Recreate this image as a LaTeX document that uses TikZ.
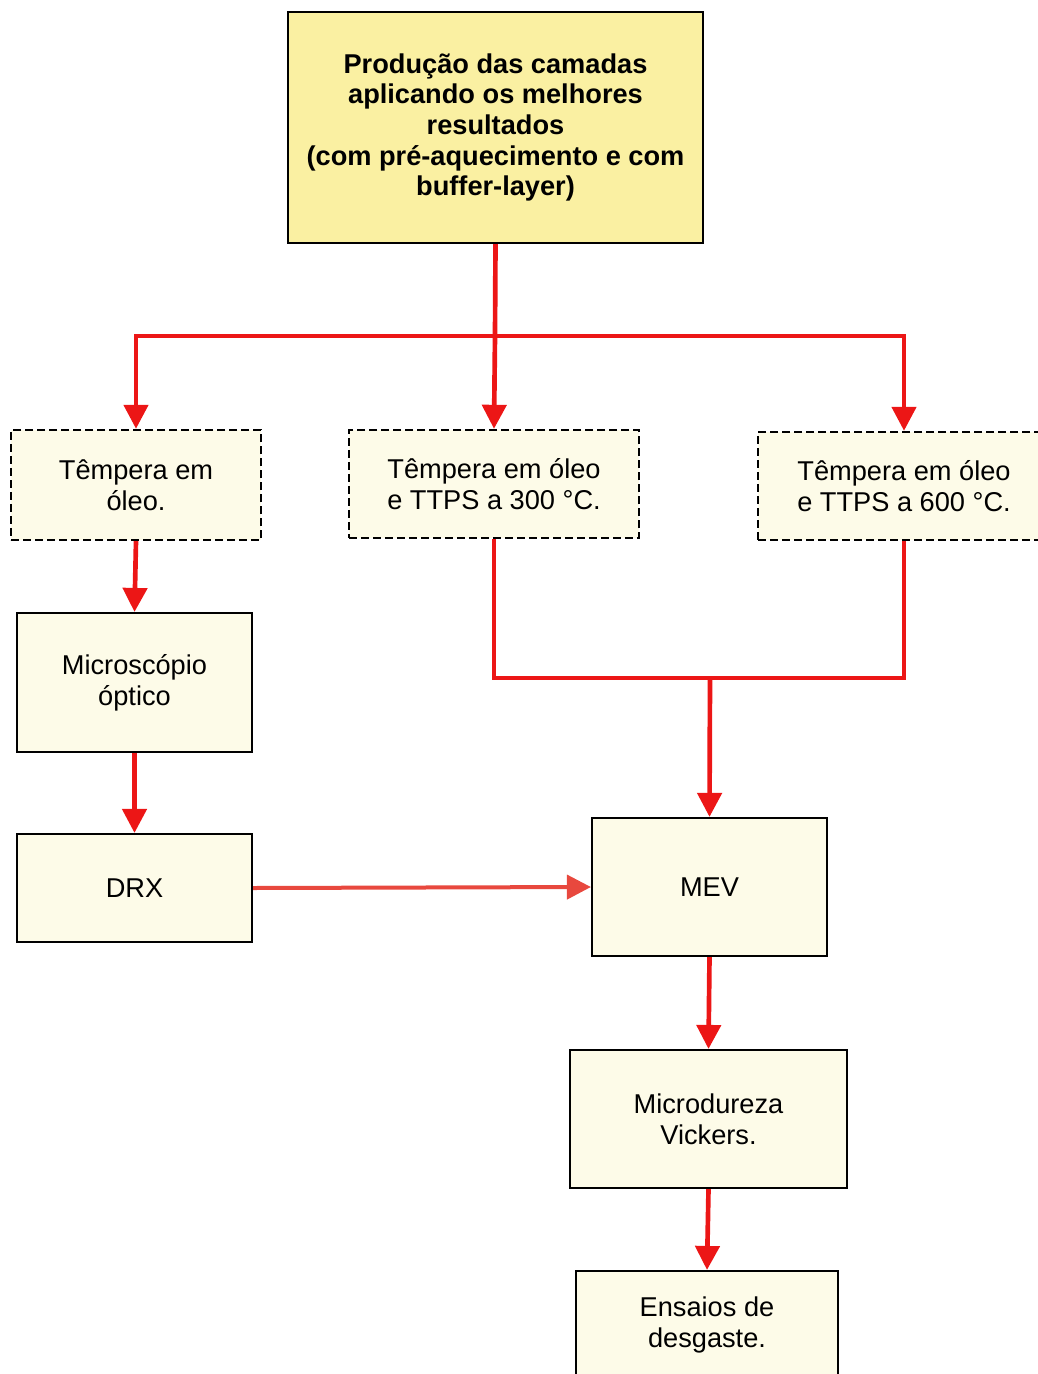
\documentclass[tikz,border=0pt]{standalone}
\usepackage{fontspec}
\setmainfont{Liberation Sans}
\usetikzlibrary{arrows.meta}
\definecolor{topfill}{RGB}{250,240,162}
\definecolor{boxfill}{RGB}{253,251,232}
\definecolor{flow}{RGB}{236,22,22}
\definecolor{flowlight}{RGB}{232,72,62}
\tikzset{
  basebox/.style={draw=black, fill=boxfill, line width=1.6pt, align=center,
    inner sep=0pt, font=\fontsize{20.4}{23}\selectfont},
  solidbox/.style={basebox},
  dashbox/.style={basebox, line width=1.8pt, dash pattern=on 6pt off 3pt},
  titlebox/.style={basebox, fill=topfill, font=\fontsize{20.4}{23}\selectfont\bfseries},
  link/.style={draw=flow, line width=3.5pt},
  linkarrow/.style={link, -{Triangle[width=18pt,length=18pt]}},
}
\begin{document}
\begin{tikzpicture}[x=0.75pt,y=-0.75pt]
\useasboundingbox (0,0) rectangle (1038,1374);

% boxes
\node[titlebox, minimum width=311.25pt, minimum height=173.25pt] (top) at (495.5,127.5)
  {Produção das camadas\\aplicando os melhores\\resultados\\(com pré-aquecimento e com\\buffer-layer)};
\node[dashbox, minimum width=187.5pt, minimum height=82.5pt] (t1) at (136,485)
  {Têmpera em\\óleo.};
\node[dashbox, minimum width=217.5pt, minimum height=81pt] (t2) at (494,484)
  {Têmpera em óleo\\e TTPS a 300 °C.};
\node[dashbox, minimum width=219pt, minimum height=81pt] (t3) at (904,486)
  {Têmpera em óleo\\e TTPS a 600 °C.};
\node[solidbox, minimum width=176.25pt, minimum height=104.25pt] (micro) at (134.5,682.5)
  {Microscópio\\óptico};
\node[solidbox, minimum width=176.25pt, minimum height=81pt] (drx) at (134.5,888)
  {DRX};
\node[solidbox, minimum width=176.25pt, minimum height=103.5pt] (mev) at (709.5,887)
  {MEV};
\node[solidbox, minimum width=207.75pt, minimum height=103.5pt] (vick) at (708.5,1119)
  {Microdureza\\Vickers.};
\node[solidbox, minimum width=196.5pt, minimum height=81pt] (ens) at (707,1325)
  {Ensaios de\\desgaste.};

% junction points
\coordinate (split) at (495,336);
\coordinate (merge) at (710,678);

% connectors
\draw[link] (top.south) -- (split);
\draw[link] (t1.north |- split) -- (t3.north |- split);
\draw[linkarrow] (split) -| (t1.north);
\draw[linkarrow] (split) -- (t2.north);
\draw[linkarrow] (split) -| (t3.north);
\draw[linkarrow] (t1.south) -- (micro.north);
\draw[linkarrow] (micro.south) -- (drx.north);
\draw[linkarrow, draw=flowlight, line width=3pt] (drx.east) -- (mev.west);
\draw[link] (t2.south) |- (merge);
\draw[link] (t3.south) |- (merge);
\draw[linkarrow] (merge) -- (mev.north);
\draw[linkarrow] (mev.south) -- (vick.north);
\draw[linkarrow] (vick.south) -- (ens.north);
\end{tikzpicture}
\end{document}
